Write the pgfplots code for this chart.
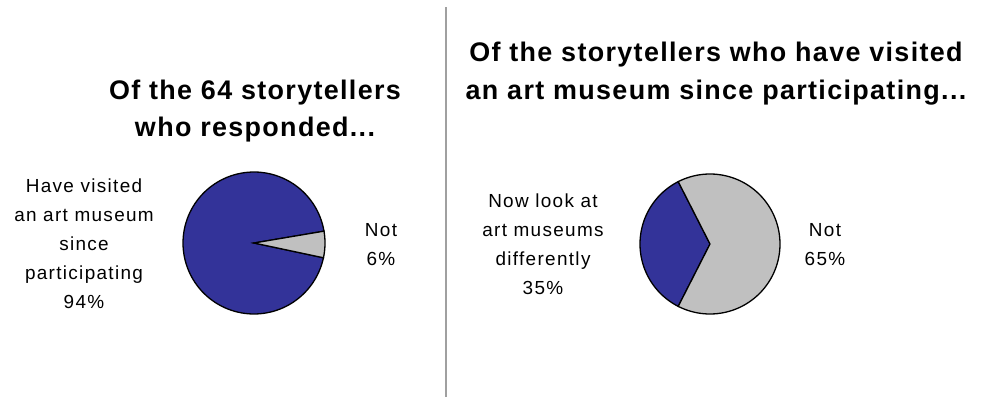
\documentclass[border=0pt]{standalone}
\usepackage{pgfplots}
\pgfplotsset{compat=1.18}
\usepackage{pgfplotstable}
\usepackage{fontspec}
\setmainfont{Liberation Sans}
\newfontfamily\titlefont[LetterSpace=5]{Liberation Sans}
\newfontfamily\labelfont[LetterSpace=7]{Liberation Sans}
\definecolor{pieblue}{HTML}{333399}
\definecolor{piegray}{HTML}{C0C0C0}
\definecolor{divider}{HTML}{A0A0A0}

\pgfplotstableread{
label share
Visited 94
Not 6
}\pieA
\pgfplotstableread{
label share
Differently 35
Not 65
}\pieB

\begin{document}
\begin{tikzpicture}
% pie A: "Not" slice starts at -12 degrees
\pgfplotstablegetelem{1}{share}\of\pieA
\pgfmathsetmacro{\aS}{-12}
\pgfmathsetmacro{\aM}{-12+\pgfplotsretval*3.6}
\pgfmathsetmacro{\aE}{348}
% pie B: "differently" slice centred on 180 degrees
\pgfplotstablegetelem{0}{share}\of\pieB
\pgfmathsetmacro{\bS}{180-\pgfplotsretval*1.8}
\pgfmathsetmacro{\bM}{180+\pgfplotsretval*1.8}
\pgfmathsetmacro{\bE}{\bS+360}
\begin{axis}[x=1bp, y=1bp, xmin=0, xmax=984, ymin=0, ymax=397,
  hide axis, clip=false, scale only axis]
\path (axis cs:0,0) rectangle (axis cs:984,397);
% divider
\addplot[divider, line width=2bp] coordinates {(445.5,0) (445.5,390)};
% pie A
\addplot[fill=pieblue, draw=black, line width=1.3bp, domain=\aM:\aE, samples=120]
  ({254+71*cos(x)},{154+71*sin(x)}) -- (axis cs:254,154) -- cycle;
\addplot[fill=piegray, draw=black, line width=1.3bp, domain=\aS:\aM, samples=12]
  ({254+71*cos(x)},{154+71*sin(x)}) -- (axis cs:254,154) -- cycle;
% pie B
\addplot[fill=pieblue, draw=black, line width=1.3bp, domain=\bS:\bM, samples=60]
  ({710+70*cos(x)},{153+70*sin(x)}) -- (axis cs:710,153) -- cycle;
\addplot[fill=piegray, draw=black, line width=1.3bp, domain=\bM:\bE, samples=100]
  ({710+70*cos(x)},{153+70*sin(x)}) -- (axis cs:710,153) -- cycle;
% titles
\node[align=center, font={\titlefont\bfseries\fontsize{27}{38}\selectfont}]
  at (axis cs:255,286) {Of the 64 storytellers\\who responded...};
\node[align=center, font={\titlefont\bfseries\fontsize{27}{38}\selectfont}]
  at (axis cs:716,323) {Of the storytellers who have visited\\an art museum since participating...};
% labels
\node[align=center, font={\labelfont\fontsize{19}{29}\selectfont}]
  at (axis cs:84,153.5) {Have visited\\an art museum\\since\\participating\\94\%};
\node[align=center, font={\labelfont\fontsize{19}{29}\selectfont}]
  at (axis cs:381,152) {Not\\6\%};
\node[align=center, font={\labelfont\fontsize{19}{29}\selectfont}]
  at (axis cs:543,152.5) {Now look at\\art museums\\differently\\35\%};
\node[align=center, font={\labelfont\fontsize{19}{29}\selectfont}]
  at (axis cs:825,152) {Not\\65\%};
\end{axis}
\end{tikzpicture}
\end{document}
